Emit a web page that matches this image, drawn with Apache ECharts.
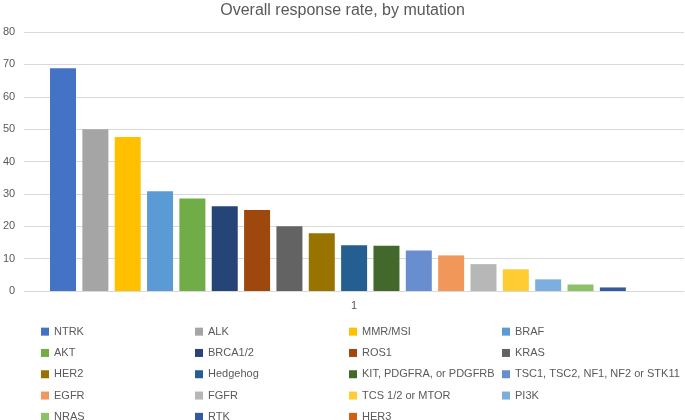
<!DOCTYPE html>
<html>
<head>
<meta charset="utf-8">
<script src="https://cdn.jsdelivr.net/npm/echarts@6/dist/echarts.min.js"></script>
<style>
html,body{margin:0;padding:0;background:#fff;}
#chart{width:685px;height:420px;}
</style>
</head>
<body>
<div id="chart"></div>
<script>
var categories = ['1'];
var mutations = ['NTRK','ALK','MMR/MSI','BRAF','AKT','BRCA1/2','ROS1','KRAS','HER2','Hedgehog','KIT, PDGFRA, or PDGFRB','TSC1, TSC2, NF1, NF2 or STK11','EGFR','FGFR','TCS 1/2 or MTOR','PI3K','NRAS','RTK','HER3'];
var rates = [68.8, 50, 47.6, 30.8, 28.6, 26.2, 25, 20, 17.8, 14.1, 14, 12.5, 11, 8.3, 6.7, 3.6, 2, 1.1, 0];
var colors = ['#4472C4','#A5A5A5','#FFC000','#5B9BD5','#70AD47','#264478','#9E480E','#636363','#997300','#255E91','#43682B','#698ED0','#F1975A','#B7B7B7','#FFCD33','#7CAFDD','#8CC168','#335AA1','#D26012'];
var yTicks = [0, 80, 10];

var font = '"Liberation Sans", "Open Sans", sans-serif';
var chart = echarts.init(document.getElementById('chart'), null, {renderer: 'canvas'});
var series = mutations.map(function (name, i) {
  return {
    name: name,
    type: 'bar',
    data: [rates[i]],
    barWidth: 26,
    barGap: '24.4%',
    itemStyle: {color: colors[i]}
  };
});
var legendLefts = [41, 195, 349, 502];
var legends = legendLefts.map(function (lx, c) {
  return {
    data: mutations.filter(function (m, i) { return i % 4 === c; }),
    orient: 'vertical',
    left: lx,
    top: 321,
    height: 130,
    itemGap: 0,
    itemWidth: 8,
    itemHeight: 8,
    padding: 0,
    icon: 'rect',
    textStyle: {color: '#595959', fontSize: 11, lineHeight: 21.3, fontFamily: font}
  };
});
chart.setOption({
  animation: false,
  backgroundColor: '#ffffff',
  color: colors,
  textStyle: {fontFamily: font},
  title: {
    text: 'Overall response rate, by mutation',
    left: 'center',
    top: -2,
    textStyle: {fontFamily: font, fontSize: 16, fontWeight: 'normal', color: '#595959'}
  },
  grid: {left: 22, right: 1, top: 32, bottom: 129, containLabel: false},
  xAxis: {
    type: 'category',
    data: categories,
    axisLine: {show: true, lineStyle: {color: '#d9d9d9', width: 1}},
    axisTick: {show: false},
    axisLabel: {color: '#595959', fontSize: 11, margin: 9, fontFamily: font}
  },
  yAxis: {
    type: 'value',
    min: yTicks[0],
    max: yTicks[1],
    interval: yTicks[2],
    axisLine: {show: false},
    axisTick: {show: false},
    splitLine: {lineStyle: {color: '#d9d9d9', width: 1}},
    axisLabel: {color: '#595959', fontSize: 11, margin: 9, fontFamily: font}
  },
  legend: legends,
  series: series
});
</script>
</body>
</html>
